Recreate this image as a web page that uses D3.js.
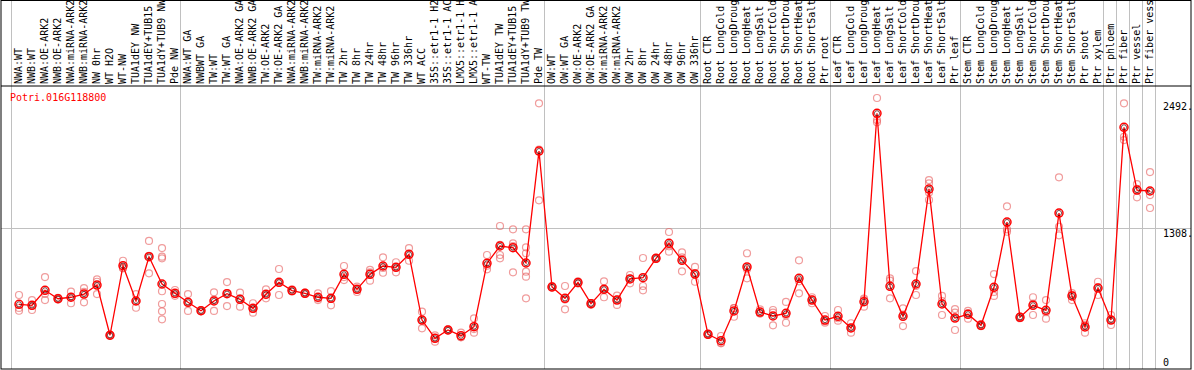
<!DOCTYPE html>
<html>
<head>
<meta charset="utf-8">
<script src="https://cdn.jsdelivr.net/npm/d3@7"></script>
<style>
  body { margin: 0; background: #fff; }
  text { font-family: "DejaVu Sans Mono", monospace; font-size: 10px; }
</style>
</head>
<body>
<div id="chart"></div>
<script>
const gene = "Potri.016G118800";

const samples = [
  "NWA:WT", "NWB:WT", "NWA:OE-ARK2", "NWB:OE-ARK2", "NWA:miRNA-ARK2", "NWB:miRNA-ARK2",
  "NW 0hr", "WT H2O", "WT-NW", "TUA1dEY NW", "TUA1dEY+TUB15 NW", "TUA1dY+TUB9 NW", "Pde NW",
  "NWA:WT GA", "NWBWT GA", "TW:WT", "TW:WT GA", "NWA:OE-ARK2 GA", "NWB:OE-ARK2 GA",
  "TW:OE-ARK2", "TW:OE-ARK2 GA", "NWA:miRNA-ARK2 GA", "NWB:miRNA-ARK2 GA", "TW:miRNA-ARK2",
  "TW:miRNA-ARK2 GA", "TW 2hr", "TW 8hr", "TW 24hr", "TW 48hr", "TW 96hr", "TW 336hr",
  "WT ACC", "35S::etr1-1 H2O", "35S::etr1-1 ACC", "LMX5::etr1-1 H2O", "LMX5::etr1-1 ACC",
  "WT-TW", "TUA1dEY TW", "TUA1dEY+TUB15 TW", "TUA1dY+TUB9 TW", "Pde TW",
  "OW:WT", "OW:WT GA", "OW:OE-ARK2", "OW:OE-ARK2 GA", "OW:miRNA-ARK2", "OW:miRNA-ARK2 GA",
  "OW 2hr", "OW 8hr", "OW 24hr", "OW 48hr", "OW 96hr", "OW 336hr",
  "Root CTR", "Root LongCold", "Root LongDrought", "Root LongHeat", "Root LongSalt",
  "Root ShortCold", "Root ShortDrought", "Root ShortHeat", "Root ShortSalt", "Ptr root",
  "Leaf CTR", "Leaf LongCold", "Leaf LongDrought", "Leaf LongHeat", "Leaf LongSalt",
  "Leaf ShortCold", "Leaf ShortDrought", "Leaf ShortHeat", "Leaf ShortSalt", "Ptr leaf",
  "Stem CTR", "Stem LongCold", "Stem LongDrought", "Stem LongHeat", "Stem LongSalt",
  "Stem ShortCold", "Stem ShortDrought", "Stem ShortHeat", "Stem ShortSalt", "Ptr shoot",
  "Ptr xylem", "Ptr phloem", "Ptr fiber", "Ptr vessel", "Ptr fiber vessel"
];

// samples per experiment block (separator lines)
const groupSizes = [13, 28, 12, 10, 10, 11, 1, 1, 1, 1];

const means = [
  595, 586, 726, 647, 661, 691, 775, 306, 956, 626, 1040, 785, 698,
  614, 535, 626, 694, 642, 558, 689, 801, 724, 698, 661, 651, 875, 735, 875, 953, 941, 1062,
  448, 277, 355, 302, 386, 978, 1140, 1124, 981, 2027,
  757, 651, 799, 601, 735, 635, 832, 844, 1025, 1165, 1006, 878,
  315, 255, 533, 944, 523, 486, 511, 838, 635, 448,
  483, 374, 619, 2380, 763, 483, 785, 1672, 598, 467,
  502, 399, 754, 1364, 474, 586, 539, 1448, 673, 383,
  747, 448, 2249, 1663, 1654
];

const replicates = [
  [682, 561, 535], [635, 581, 542], [850, 693, 635], [655, 640, 647], [713, 665, 605],
  [747, 712, 614], [806, 828, 691], [310, 300, 308], [1002, 935, 931], [691, 624, 563],
  [1187, 1048, 885], [1121, 1040, 1025, 717, 598, 530, 455], [729, 691, 674],
  [691, 618, 533], [540, 530, 535], [707, 638, 533], [803, 700, 579], [704, 649, 573],
  [605, 552, 517], [735, 681, 651], [925, 796, 682], [735, 715, 722], [705, 692, 697],
  [698, 650, 635], [719, 648, 586], [953, 850, 822], [760, 735, 710], [916, 893, 816],
  [1034, 935, 890], [988, 941, 894], [1121, 1063, 1002],
  [526, 447, 371], [246, 281, 304], [360, 350, 355], [330, 289, 287], [464, 364, 330],
  [1056, 956, 922], [1327, 1150, 1056, 1025], [1296, 1165, 1140, 894],
  [1296, 1128, 1072, 900, 853, 651], [2473, 2040, 1567],
  [765, 750, 757], [766, 639, 548], [810, 790, 797], [607, 590, 606], [810, 734, 661],
  [676, 640, 589], [869, 836, 791], [1028, 766, 726], [1030, 1020, 1025], [1271, 1137, 1087],
  [1081, 1034, 903], [944, 884, 806],
  [310, 320, 315], [299, 235, 231], [479, 560, 560], [1072, 922, 838], [548, 510, 511],
  [542, 517, 399], [617, 493, 423], [1006, 810, 698], [661, 639, 605], [486, 435, 423],
  [542, 465, 442], [418, 374, 330], [649, 635, 573], [2523, 2317, 2296], [838, 816, 651],
  [558, 499, 392], [906, 767, 682], [1756, 1726, 1640, 1570], [673, 626, 495], [551, 517, 355],
  [533, 512, 461], [410, 390, 398], [878, 711, 673], [1511, 1296, 1273], [480, 465, 477],
  [661, 602, 495], [635, 521, 461], [1782, 1320, 1240], [635, 700, 684], [418, 401, 330],
  [806, 753, 682], [495, 447, 402], [2473, 2161, 2130], [1719, 1675, 1595], [1831, 1616, 1495]
];

const yTicks = [0, 1308, 2492];
const yTickLabels = ["0", "1308.", "2492."];

const width = 1194, height = 370;
const headerBottom = 86, plotBottom = 369, boxRight = 1191;

const svg = d3.select("#chart").append("svg")
  .attr("width", width)
  .attr("height", height);

const x = d3.scaleBand()
  .domain(samples)
  .range([11, 11 + 13 * samples.length]);

const y = d3.scaleLinear()
  .domain([0, 2635])
  .range([368, headerBottom]);

const px = (d) => x(d) + 8;

// horizontal grid line
svg.append("line")
  .attr("x1", 1).attr("x2", boxRight)
  .attr("y1", Math.round(y(1308)) + 0.5).attr("y2", Math.round(y(1308)) + 0.5)
  .attr("stroke", "#c0c0c0");

// block separators
let starts = [0];
groupSizes.forEach((n) => starts.push(starts[starts.length - 1] + n));
svg.selectAll(".sep")
  .data(starts)
  .enter()
  .append("line")
  .attr("class", "sep")
  .attr("x1", (k) => 11 + 13 * k + 0.5)
  .attr("x2", (k) => 11 + 13 * k + 0.5)
  .attr("y1", 0).attr("y2", plotBottom)
  .attr("stroke", "#c0c0c0");

// frame
svg.append("rect")
  .attr("x", 1).attr("y", 0.5)
  .attr("width", boxRight - 1).attr("height", plotBottom - 0.5)
  .attr("fill", "none").attr("stroke", "#000");
svg.append("line")
  .attr("x1", 1).attr("x2", boxRight)
  .attr("y1", headerBottom).attr("y2", headerBottom)
  .attr("stroke", "#000");

// sample labels in the header
svg.selectAll(".lab")
  .data(samples)
  .enter()
  .append("text")
  .attr("class", "lab")
  .attr("transform", (d) => "translate(" + (px(d) + 3) + ",84) rotate(-90)")
  .attr("fill", "#000")
  .text((d) => d);

// y labels
svg.selectAll(".ylab")
  .data(yTicks)
  .enter()
  .append("text")
  .attr("class", "ylab")
  .attr("x", 1163)
  .attr("y", (d, i) => (d === 0 ? y(d) - 2 : y(d) + 9))
  .attr("fill", "#000")
  .text((d, i) => yTickLabels[i]);

// gene name
svg.append("text")
  .attr("x", 10).attr("y", 101)
  .attr("fill", "#ff0000")
  .text(gene);

// replicate points
const repPoints = [];
replicates.forEach((reps, i) => reps.forEach((v) => repPoints.push({ s: samples[i], v: v })));
svg.selectAll(".rep")
  .data(repPoints)
  .enter()
  .append("circle")
  .attr("class", "rep")
  .attr("cx", (d) => px(d.s))
  .attr("cy", (d) => y(d.v))
  .attr("r", 3.5)
  .attr("fill", "none")
  .attr("stroke", "rgba(230,90,90,0.6)")
  .attr("stroke-width", 1.2);

// mean line
const line = d3.line()
  .x((d, i) => px(samples[i]))
  .y((d) => y(d));

svg.append("path")
  .datum(means)
  .attr("d", line)
  .attr("fill", "none")
  .attr("stroke", "#ff0000")
  .attr("stroke-width", 1.3);

svg.selectAll(".mean")
  .data(means)
  .enter()
  .append("circle")
  .attr("class", "mean")
  .attr("cx", (d, i) => px(samples[i]))
  .attr("cy", (d) => y(d))
  .attr("r", 4)
  .attr("fill", "none")
  .attr("stroke", "#ff0000")
  .attr("stroke-width", 1.5);

svg.selectAll(".meanin")
  .data(means)
  .enter()
  .append("circle")
  .attr("class", "meanin")
  .attr("cx", (d, i) => px(samples[i]))
  .attr("cy", (d) => y(d))
  .attr("r", 2.6)
  .attr("fill", "none")
  .attr("stroke", "#400")
  .attr("stroke-width", 0.7);
</script>
</body>
</html>
